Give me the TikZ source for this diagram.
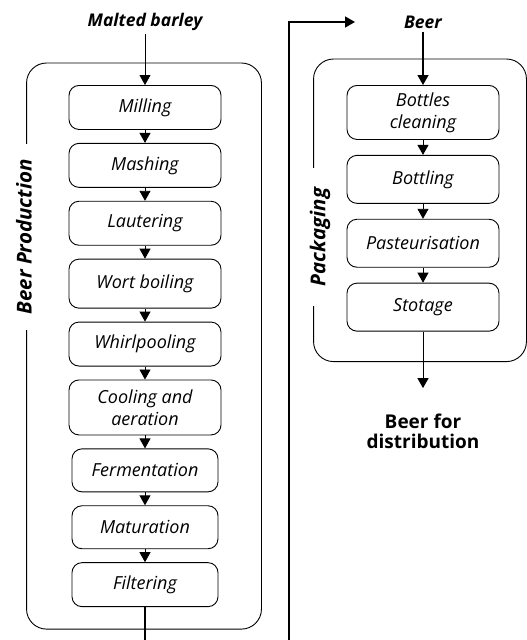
\documentclass[tikz,border=0pt]{standalone}
\usepackage{fontspec}
\setmainfont{Open Sans}
\usetikzlibrary{positioning, arrows.meta, fit}
\tikzset{
  stage/.style={
    rectangle,
    draw=black,
    line width=0.9pt,
    rounded corners=10pt,
    minimum width=152pt,
    minimum height=44pt,
    inner sep=2pt,
    align=center,
    font=\fontsize{18}{22}\selectfont\itshape
  },
  groupbox/.style={
    draw=black,
    line width=0.9pt,
    rounded corners=20pt
  },
  sidelabel/.style={
    rotate=90,
    fill=white,
    inner ysep=1pt,
    font=\fontsize{20.5}{24}\selectfont\bfseries\itshape
  },
  flowtext/.style={
    align=center,
    font=\fontsize{19}{20}\selectfont\bfseries
  },
  arrow/.style={
    line width=0.9pt,
    -{Triangle[length=10pt, width=11pt]}
  }
}

\begin{document}
\begin{tikzpicture}[x=1pt, y=-1pt, node distance=13pt]
\useasboundingbox (0,0) rectangle (527,640);
\clip (0,0) rectangle (527,640);

% Nodes: beer production
\node (barley) [flowtext, font=\fontsize{17.5}{20}\selectfont\bfseries\itshape] at (145,22) {Malted barley};
\node (milling) [stage, anchor=north] at (145,85) {Milling};
\node (mashing) [stage, below=of milling] {Mashing};
\node (lautering) [stage, below=of mashing] {Lautering};
\node (boiling) [stage, below=of lautering, minimum height=49pt] {Wort boiling};
\node (whirlpool) [stage, below=of boiling] {Whirlpooling};
\node (cooling) [stage, below=of whirlpool, minimum height=55pt] {Cooling and\\aeration};
\node (fermentation) [stage, below=of cooling, minimum width=146pt, minimum height=43pt] {Fermentation};
\node (maturation) [stage, below=of fermentation, minimum width=146pt, minimum height=43pt] {Maturation};
\node (filtering) [stage, below=of maturation, minimum width=146pt] {Filtering};

% Nodes: packaging
\node (beer) [flowtext, font=\fontsize{17.5}{20}\selectfont\bfseries\itshape] at (423,22) {Beer};
\node (bottles) [stage, anchor=north, minimum height=54pt] at (423,85) {Bottles\\cleaning};
\node (bottling) [stage, below=15pt of bottles, minimum height=48pt] {Bottling};
\node (pasteur) [stage, below=15pt of bottling, minimum height=48pt] {Pasteurisation};
\node (storage) [stage, below=15pt of pasteur, minimum height=48pt] {Stotage};
\node (dist) [flowtext] at (423,431) {Beer for\\distribution};

% Group boxes
\node (prodbox) [groupbox, inner xsep=41pt, inner ysep=22pt, xshift=-1pt, fit=(milling)(filtering)] {};
\node (prodlabel) [sidelabel, inner xsep=16pt] at (24,237) {Beer Production};
\node (packbox) [groupbox, inner xsep=30pt, inner ysep=28pt, xshift=-3pt, yshift=-2pt, fit=(bottles)(storage)] {};
\node (packlabel) [sidelabel, inner xsep=20pt] at (320,237) {Packaging};

% Arrows
\draw [arrow] (barley) -- (milling);
\foreach \a/\b in {milling/mashing, mashing/lautering, lautering/boiling, boiling/whirlpool,
                   whirlpool/cooling, cooling/fermentation, fermentation/maturation, maturation/filtering}
  \draw [arrow] (\a) -- (\b);

\draw [arrow, line width=1.3pt] (beer) -- (bottles);
\foreach \a/\b in {bottles/bottling, bottling/pasteur, pasteur/storage}
  \draw [arrow] (\a) -- (\b);
\draw [arrow, shorten >=22pt] (storage) -- (dist);

% Loop from filtering to beer
\coordinate (loopbottom) at (289,660);
\coordinate (beerin) at (355,22);
\draw [arrow, line width=1.4pt] (filtering.south) |- (loopbottom) |- (beerin);

\end{tikzpicture}
\end{document}
